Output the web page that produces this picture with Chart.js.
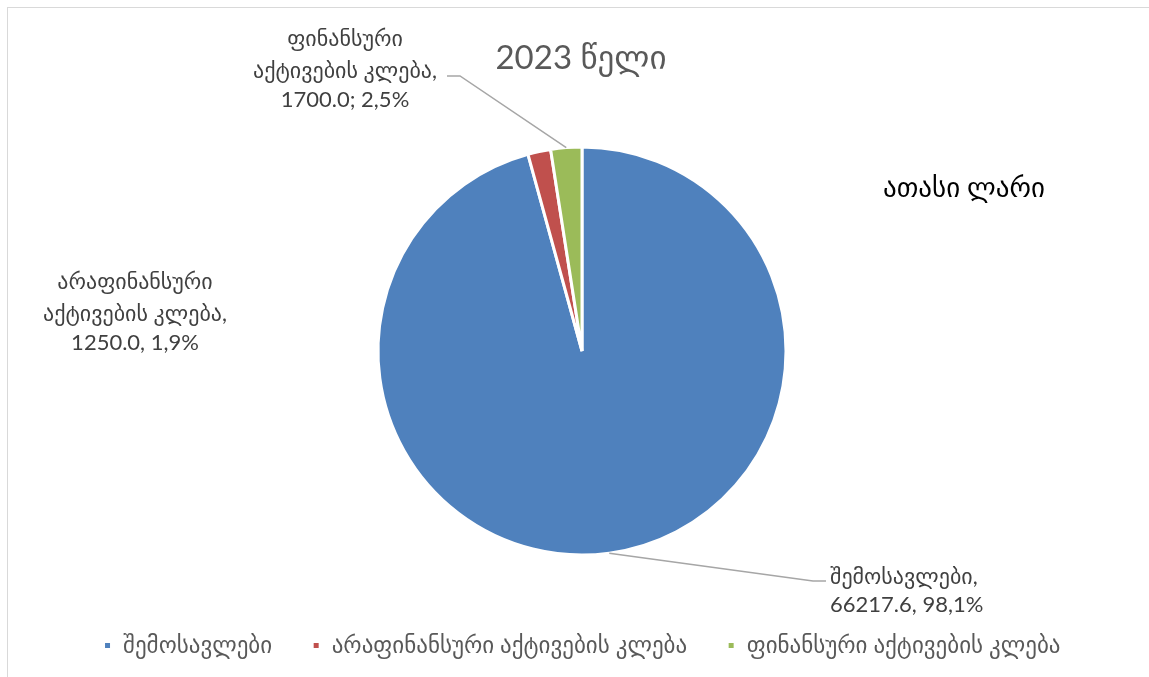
<!DOCTYPE html>
<html>
<head>
<meta charset="utf-8">
<title>2023 წელი</title>
<script src="https://cdn.jsdelivr.net/npm/chart.js@4.4.1/dist/chart.umd.min.js"></script>
<style>
  html, body { margin: 0; padding: 0; background: #fff; }
  #wrap { position: relative; width: 1149px; height: 677px; overflow: hidden; }
  #frame { position: absolute; left: 7px; top: 7px; width: 1200px; height: 700px; border: 1px solid #d9d9d9; }
  #chart { position: absolute; left: 0; top: 0; }
</style>
</head>
<body>
<div id="wrap">
  <div id="frame"></div>
  <canvas id="chart" width="1149" height="677"></canvas>
</div>
<script>
// ── data ──
const categories = [
  "შემოსავლები",
  "არაფინანსური აქტივების კლება",
  "ფინანსური აქტივების კლება",
];
const values = [66217.6, 1250.0, 1700.0];
const shares = ["98,1%", "1,9%", "2,5%"];
const sliceColors = ["#4f81bd", "#c0504d", "#9bbb59"];
const titleText = "2023 წელი";
const unitText = "ათასი ლარი";

const FONT = 'Lato, "DejaVu Sans", sans-serif';

// data label text, one array of lines per slice
const labelLines = [
  ["შემოსავლები,", values[0].toFixed(1) + ", " + shares[0]],
  ["არაფინანსური", "აქტივების კლება,", values[1].toFixed(1) + ", " + shares[1]],
  ["ფინანსური", "აქტივების კლება,", values[2].toFixed(1) + "; " + shares[2]],
];

// where each label sits, and the bend of its leader line
const labelSpots = [
  { x: 830, ys: [577, 605], align: "left", leader: [[826, 581], [813, 581]] },
  { x: 135, ys: [282, 314, 343], align: "center", leader: null },
  { x: 345, ys: [39, 71, 100], align: "center", leader: [[447, 76], [460, 76]] },
];

// ══════════════════════════════════════════
// LABELS, TITLE, UNITS
// ══════════════════════════════════════════
const sliceLabels = {
  id: "sliceLabels",
  afterDraw(chart) {
    const ctx = chart.ctx;
    const arcs = chart.getDatasetMeta(0).data;
    ctx.save();

    ctx.textBaseline = "middle";
    ctx.fillStyle = "#595959";
    ctx.font = "33px " + FONT;
    ctx.textAlign = "center";
    ctx.fillText(titleText, 581, 58);

    ctx.fillStyle = "#000";
    ctx.font = "27px " + FONT;
    ctx.textAlign = "left";
    ctx.fillText(unitText, 883, 188);

    arcs.forEach((arc, i) => {
      const p = arc.getProps(["x", "y", "startAngle", "endAngle", "outerRadius"], true);
      const mid = (p.startAngle + p.endAngle) / 2;
      const ex = p.x + Math.cos(mid) * p.outerRadius;
      const ey = p.y + Math.sin(mid) * p.outerRadius;
      const spot = labelSpots[i];

      if (spot.leader) {
        ctx.strokeStyle = "#a6a6a6";
        ctx.lineWidth = 1.5;
        ctx.beginPath();
        ctx.moveTo(spot.leader[0][0], spot.leader[0][1]);
        ctx.lineTo(spot.leader[1][0], spot.leader[1][1]);
        ctx.lineTo(ex, ey);
        ctx.stroke();
      }

      ctx.fillStyle = "#404040";
      ctx.font = "22px " + FONT;
      ctx.textAlign = spot.align;
      labelLines[i].forEach((line, k) => ctx.fillText(line, spot.x, spot.ys[k]));
    });
    ctx.restore();
  },
};

new Chart(document.getElementById("chart").getContext("2d"), {
  type: "pie",
  data: {
    labels: categories,
    datasets: [
      {
        data: values,
        backgroundColor: sliceColors,
        borderColor: "#ffffff",
        borderWidth: 3,
      },
    ],
  },
  options: {
    responsive: false,
    animation: false,
    radius: 204,
    layout: { padding: { top: 108, left: 15, right: 0, bottom: 10 } },
    plugins: {
      legend: {
        position: "bottom",
        labels: {
          boxWidth: 8,
          boxHeight: 8,
          padding: 40,
          color: "#595959",
          font: { family: FONT, size: 23 },
        },
      },
      tooltip: { enabled: false },
    },
  },
  plugins: [sliceLabels],
});
</script>
</body>
</html>
